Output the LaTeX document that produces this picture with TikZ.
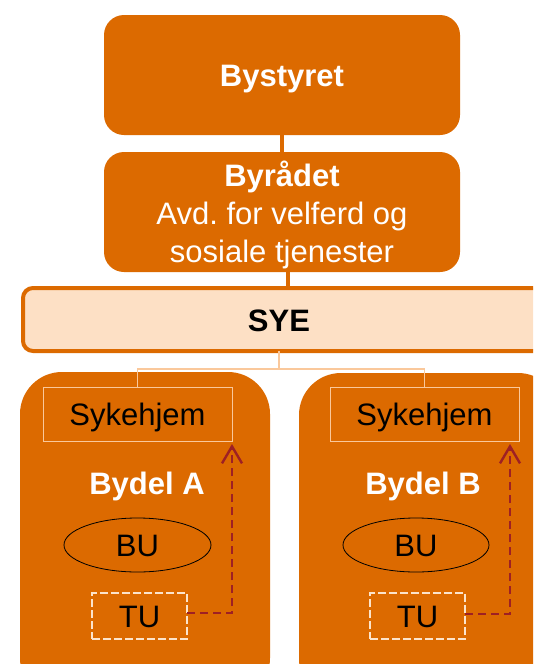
\documentclass[tikz,border=0pt]{standalone}
\usepackage{fontspec}
\setmainfont{Liberation Sans}
\usetikzlibrary{arrows.meta,shapes.geometric}
\definecolor{org}{RGB}{220,106,0}
\definecolor{peach}{RGB}{253,224,197}
\definecolor{peachline}{RGB}{250,200,155}
\definecolor{tuline}{RGB}{252,228,204}
\definecolor{darr}{RGB}{158,32,36}
\frenchspacing
\begin{document}
\begin{tikzpicture}[x=1pt,y=-1pt,
  every node/.style={font=\fontsize{31}{38}\selectfont, inner sep=0pt, outer sep=0pt},
  capbox/.style={text height=22pt, text depth=0pt},
  topbox/.style={rectangle, rounded corners=20pt, fill=org, text=white, minimum width=356pt, minimum height=120pt, align=center},
  syebox/.style={rectangle, rounded corners=10pt, fill=peach, draw=org, line width=4pt, minimum width=536pt, minimum height=63pt},
  bydelbox/.style={rectangle, rounded corners=42pt, fill=org, minimum height=328pt},
  skbox/.style={rectangle, capbox, draw=peachline, line width=1pt, minimum width=189pt, minimum height=54pt},
  buell/.style={ellipse, capbox, draw=black, line width=0.8pt, minimum width=147pt, minimum height=54pt},
  tubox/.style={rectangle, capbox, draw=tuline, dash pattern=on 8pt off 3pt, line width=2pt, minimum width=95pt, minimum height=46pt},
  whitelbl/.style={capbox, text=white, font=\fontsize{31}{38}\selectfont\bfseries},
  orgline/.style={draw=org, line width=4pt},
  link/.style={draw=peachline, line width=1.5pt},
  tuarrow/.style={draw=darr, line width=2pt, dash pattern=on 8pt off 5pt, -{Straight Barb[length=17pt, width=20pt, line width=2.4pt]}}
]
\clip (0,0) rectangle (533,664);
\fill[white] (0,0) rectangle (533,664);

% top boxes
\node[topbox, capbox, font=\fontsize{31}{38}\selectfont\bfseries] (bystyret) at (282,75) {Bystyret};
\node[topbox, text depth=0pt] (byraadet) at (282,212) {\textbf{Byrådet}\\Avd. for velferd og\\sosiale tjenester};
\path[orgline] (bystyret.south) -- (bystyret.south |- byraadet.north);

% SYE
\node[syebox] (sye) at (291,319.5) {};
\node[capbox, font=\fontsize{31}{38}\selectfont\bfseries] (syet) at (279,320) {SYE};
\path[orgline] ([xshift=6pt]byraadet.south) -- ([xshift=6pt]byraadet.south |- sye.north);

% Bydel boxes
\node[bydelbox, minimum width=250pt] (bydA) at (145,536) {};
\node[bydelbox, minimum width=261pt] (bydB) at (429.5,537) {};

% Sykehjem
\node[skbox] (skA) at (137.5,414) {Sykehjem};
\node[skbox] (skB) at (424.5,414) {Sykehjem};

\coordinate (junc) at (syet |- 0,369);
\path[link] (syet |- sye.south) -- (junc) -| (skA.north);
\path[link] (junc) -| (skB.north);

% Bydel labels
\node[whitelbl] (lblA) at (147,483.5) {Bydel A};
\node[whitelbl] (lblB) at (423,483.5) {Bydel B};

% BU
\node[buell] (buA) at (137.5,545) {BU};
\node[buell, minimum width=146pt] (buB) at (416,545) {BU};

% TU
\node[tubox] (tuA) at (139.5,616) {TU};
\node[tubox] (tuB) at (417.5,616) {TU};

% arrows
\path[tuarrow] ([yshift=3pt]tuA.east) -| ([yshift=-3pt]skA.south east);
\path[tuarrow] ([yshift=2pt]tuB.east) -| ([xshift=-9pt,yshift=-3pt]skB.south east);
\end{tikzpicture}
\end{document}
